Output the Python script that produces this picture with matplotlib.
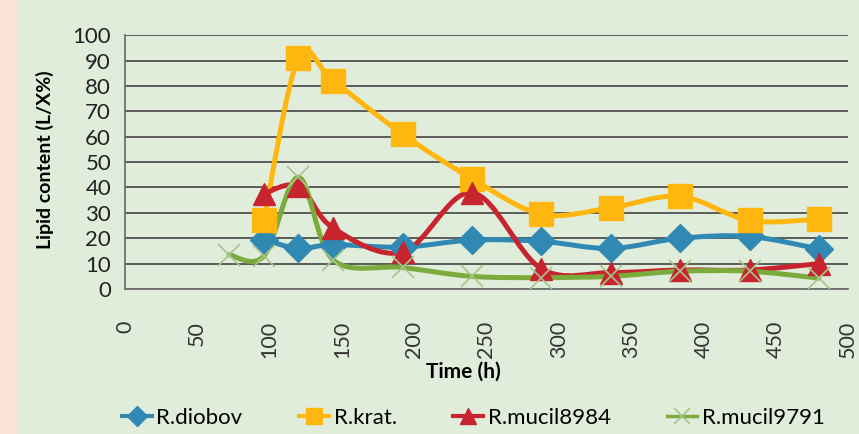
import numpy as np
import matplotlib.pyplot as plt
from matplotlib.path import Path
from matplotlib.patches import PathPatch, Rectangle

# time points (h)
t_main = [96, 120, 144, 192, 240, 288, 336, 384, 432, 480]
t_9791 = [72, 96, 120, 144, 192, 240, 288, 336, 384, 432, 480]

# lipid content (L/X%)
diobov = [19.5, 16, 17.5, 16.5, 19.3, 18.8, 16, 20, 20.7, 15.8]
krat = [27, 91, 82, 61, 43.5, 29.5, 32, 36.5, 27, 27.5]
mucil8984 = [37.5, 40.5, 24, 14.5, 38, 8, 6.5, 7.5, 7.5, 10]
mucil9791 = [13.5, 13, 44, 11.5, 8.5, 5, 4.5, 5, 7, 7, 4.3]

labels = ["R.diobov", "R.krat.", "R.mucil8984", "R.mucil9791"]
colors = ["#3089b3", "#ffb60f", "#c82430", "#7aab3c"]

plt.rcParams['font.family'] = ['Lato', 'DejaVu Sans']

fig = plt.figure(figsize=(8.59, 4.34), dpi=100, facecolor="#e1eddb")
fig.patches.append(Rectangle((0, 0), 17 / 859, 1, transform=fig.transFigure,
                             facecolor="#fbe2d6", edgecolor="none", zorder=0))
ax = fig.add_axes([0.1455, 0.334, 0.8415, 0.585])
ax.set_facecolor("#e1eddb")


def smooth(ax, x, y, color, lw=3.6):
    # excel style smoothed line (bezier through the points)
    x = np.asarray(x, float)
    y = np.asarray(y, float)
    pts = np.column_stack([x, y])
    n = len(pts)
    verts = [pts[0]]
    codes = [Path.MOVETO]
    for i in range(n - 1):
        p0 = pts[i - 1] if i > 0 else pts[i]
        p1 = pts[i]
        p2 = pts[i + 1]
        p3 = pts[i + 2] if i + 2 < n else pts[i + 1]
        c1 = p1 + (p2 - p0) / 6
        c2 = p2 - (p3 - p1) / 6
        verts += [c1, c2, p2]
        codes += [Path.CURVE4] * 3
    ax.add_patch(PathPatch(Path(verts, codes), facecolor="none", edgecolor=color,
                           lw=lw, zorder=3, capstyle="round", joinstyle="round"))


series = [(t_main, diobov, "D", 14), (t_main, krat, "s", 17),
          (t_main, mucil8984, "^", 16), (t_9791, mucil9791, "x", 16)]
leg_ms = [10, 11, 12, 12]

handles = []
for (xs, ys, m, ms), lab, c, lm in zip(series, labels, colors, leg_ms):
    smooth(ax, xs, ys, c)
    if m == "x":
        ax.plot(xs, ys, linestyle="none", marker=m, markersize=ms, color="#a9c48a",
                markeredgewidth=1.2, zorder=4)
        h, = ax.plot([], [], color=c, lw=2.5, marker="x", markersize=lm,
                     markeredgecolor="#a9c48a", markeredgewidth=1.2)
    else:
        ax.plot(xs, ys, linestyle="none", marker=m, markersize=ms, color=c, zorder=4)
        h, = ax.plot([], [], color=c, lw=3, marker=m, markersize=lm)
    handles.append(h)

ax.set_xlim(0, 500)
ax.set_ylim(0, 100)
ax.set_xticks(np.arange(0, 501, 50))
ax.set_yticks(np.arange(0, 101, 10))
ax.tick_params(axis="x", labelrotation=90, length=0, labelsize=15.5, pad=23, colors="#333333")
ax.tick_params(axis="y", length=0, labelsize=16, pad=10, colors="#222222")
ax.grid(axis="y", color="#505050", lw=1.3)
ax.set_axisbelow(True)
for s in ["top", "right"]:
    ax.spines[s].set_visible(False)
ax.spines["left"].set_color("#707070")
ax.spines["bottom"].set_color("#707070")
ax.spines["left"].set_linewidth(1.3)
ax.spines["bottom"].set_linewidth(1.3)

fig.text(45 / 859, 1 - 160 / 434, "Lipid content (L/X%)", fontsize=14, fontweight="bold",
         rotation=90, ha="center", va="center")
fig.text(463 / 859, 1 - 362 / 434, "Time (h)", fontsize=15, fontweight="bold",
         ha="center", va="top")

fig.legend(handles, labels, loc="center", bbox_to_anchor=(0.551, 0.037), ncol=4,
           frameon=False, fontsize=16, columnspacing=2.55, handlelength=1.35,
           handletextpad=0.2)

fig.savefig("out.png", dpi=100, facecolor=fig.get_facecolor())
